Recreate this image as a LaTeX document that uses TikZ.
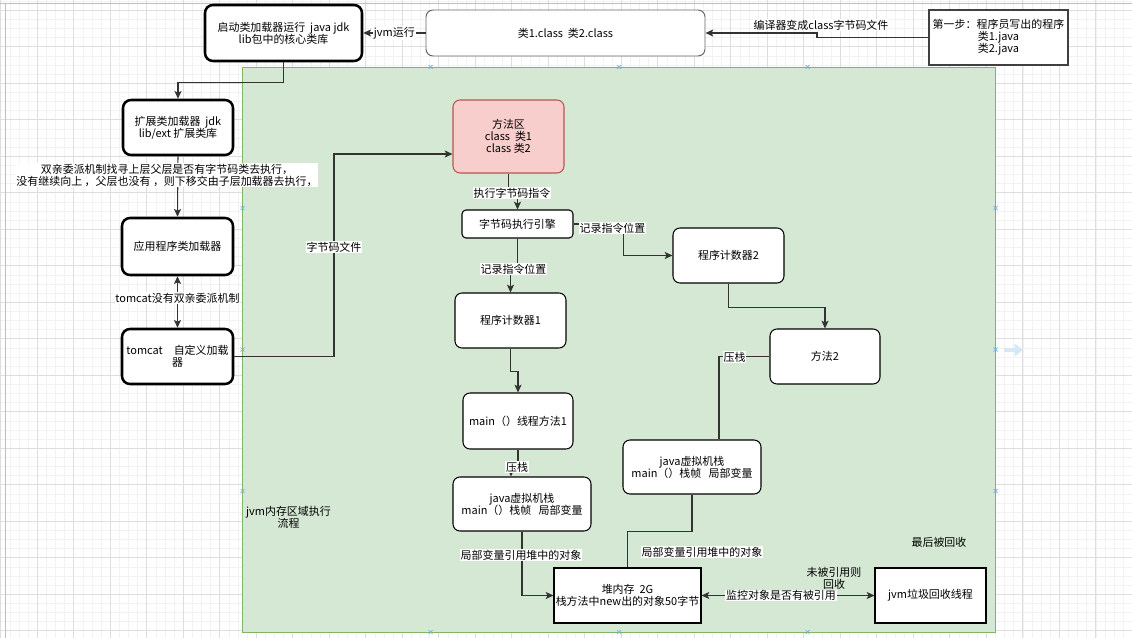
\documentclass[tikz,border=0pt]{standalone}
\usepackage{fontspec}
\setmainfont{Noto Sans CJK SC}
\usepackage{xcolor}
\usepackage{tikz}
\usetikzlibrary{positioning,arrows.meta}
\newdimen\pxu \pxu=0.025cm
\definecolor{areagreen}{HTML}{D5E8D4}
\definecolor{areaedge}{HTML}{82B366}
\definecolor{mafill}{HTML}{F8CECC}
\definecolor{maedge}{HTML}{B85450}
\definecolor{linegray}{HTML}{333333}
\definecolor{markblue}{HTML}{6FB1DF}
\begin{document}
\begin{tikzpicture}[x=0.025cm, y=-0.025cm,
  font=\fontsize{7.8}{8.6}\selectfont,
  >={Stealth[length=5.5pt,width=5pt,inset=1.2pt]},
  every node/.style={align=center, inner sep=0pt},
  gridminor/.style={draw=black!5, line width=0.3pt},
  gridmajor/.style={draw=black!13, line width=0.4pt},
  box/.style={draw=black, line width=0.75pt, rounded corners=7\pxu, fill=white, minimum width=111\pxu, minimum height=55\pxu},
  loader/.style={box, line width=1.8pt, rounded corners=8\pxu},
  sqbox/.style={draw=black, line width=0.75pt, fill=white, minimum height=55\pxu},
  lbl/.style={fill=white, inner sep=0.6pt},
  link/.style={draw=linegray, line width=0.75pt}]
\useasboundingbox (0,0) rectangle (1132,638);

% Grid
\foreach \i in {0,...,124} {\draw[gridminor] ({0.7+\i*9.125},0) -- ++(0,638);}
\foreach \i in {-1,...,69} {\draw[gridminor] (0,{10.2+\i*9.125}) -- ++(1132,0);}
\foreach \i in {0,...,31} {\draw[gridmajor] ({0.7+\i*36.5},0) -- ++(0,638);}
\foreach \i in {0,...,17} {\draw[gridmajor] (0,{10.2+\i*36.5}) -- ++(1132,0);}
\draw[black!25] (0,3.5) -- (1132,3.5);
\draw[black!25] (5,3.5) -- (5,638);

% JVM area
\draw[fill=areagreen, draw=areaedge, line width=0.6pt] (242.5,67) rectangle (995.5,632);
\foreach \mx/\my in {430.5/67,619/67,807.5/67,430.5/632,619/632,807.5/632,242.5/208,242.5/349.5,242.5/491,995.5/208,995.5/349.5,995.5/491}
  {\draw[markblue, line width=0.5pt] (\mx-2,\my-2) -- (\mx+2,\my+2) (\mx-2,\my+2) -- (\mx+2,\my-2);}
\draw[markblue!30, line width=2.5pt, -{Triangle[length=6pt,width=9pt]}] (1004,350) -- (1023,350);

% Class loaders
\node[loader, minimum width=157\pxu, minimum height=56\pxu] (boot) at (283.5,33) {启动类加载器运行\ \ java jdk\\lib包中的核心类库};
\node[loader, minimum width=110\pxu] (ext) at (178,127.5) {扩展类加载器\ \ jdk\\lib/ext 扩展类库};
\node[loader, minimum height=57\pxu] (app) at (177.5,246.5) {应用程序类加载器};
\node[loader] (tomcat) at (177.5,356.5) {tomcat\quad 自定义加载\\器};

% Source and class files
\node[box, draw=black!60, line width=0.7pt, minimum width=279\pxu, minimum height=46\pxu] (cls) at (565.5,33) {类1.class\ \ 类2.class};
\node[sqbox, draw=black!75, minimum width=139\pxu] (src) at (998.5,37.5) {第一步：程序员写出的程序\\类1.java\\类2.java};

% Runtime areas
\node[box, fill=mafill, draw=maedge, minimum height=73\pxu] (marea) at (508.5,136.5) {方法区\\class\ \ 类1\\class 类2};
\node[box, minimum height=28\pxu, rounded corners=4\pxu] (engine) at (517.5,224) {字节码执行引擎};
\node[box] (cnt1) at (510.5,320.5) {程序计数器1};
\node[box] (cnt2) at (728.5,255.5) {程序计数器2};
\node[box, minimum width=110\pxu] (m2) at (825,356.5) {方法2};
\node[box, minimum width=110\pxu, minimum height=56\pxu] (main1) at (518,421) {main（）线程方法1};
\node[box, minimum width=138\pxu, minimum height=54\pxu] (stk1) at (522,504) {java虚拟机栈\\main（）栈帧\ \ \ 局部变量};
\node[box, minimum width=138\pxu, minimum height=54\pxu] (stk2) at (692,467) {java虚拟机栈\\main（）栈帧\ \ \ 局部变量};
\node[sqbox, minimum width=147\pxu] (heap) at (627.5,595.5) {堆内存\ \ 2G\\栈方法中new出的对象50字节};
\node[sqbox, minimum width=111\pxu] (gc) at (930.5,595.5) {jvm垃圾回收线程};

% Free texts
\node (jvmflow) at (288.5,517) {jvm内存区域执行\\流程};
\node (lastgc) at (939,542) {最后被回收};
\node (unref) at (834,578) {未被引用则\\回收};

% Loading
\draw[link,->] (src.west) -- (817,37.5) |- (cls.east);
\node[lbl] (compile) at (821,25) {编译器变成class字节码文件};
\draw[link,->] (cls.west) -- (boot.east) node[lbl, midway] {jvm运行};
\draw[link,->] (boot.south) -- ++(0,20) -| (ext.north);
\draw[link,->] (ext.south) -- (app.north);
\node[lbl] (parent) at (167,175) {双亲委派机制找寻上层父层是否有字节码类去执行，\\没有继续向上 ，父层也没有 ，则下移交由子层加载器去执行，};
\draw[link,<->] (app.south) -- (tomcat.north) node[lbl, pos=0.42] {tomcat没有双亲委派机制};
\draw[link,->] (tomcat.east) -| (334,154) -- (marea.west |- 334,154);
\node[lbl] (bytefile) at (334,247) {字节码文件};

% Execution
\draw[link,->] (marea.south) -- ++(0,20) -| (engine.north);
\node[lbl] (exec) at (512,193) {执行字节码指令};
\draw[link,->] (engine.east) -- ++(50,0) |- (cnt2.west);
\node[lbl] (rec2) at (612.5,228) {记录指令位置};
\draw[link,->] (engine.south) -- ++(0,31) -| (cnt1.north);
\node[lbl] (rec1) at (513.5,269) {记录指令位置};
\draw[link,->] (cnt1.south) -- ++(0,23) -| (main1.north);
\draw[link,->] (main1.south) -- ++(0,18) -| (stk1.north -| 511,0);
\node[lbl] (push1) at (517,467) {压栈};
\draw[link,->] (cnt2.south) -- ++(0,24) -| (m2.north);
\draw[link] (m2.west) -| (stk2.north -| 719,0);
\node[lbl] (push2) at (734.5,357) {压栈};

% Heap
\draw[link,->] (stk1.south) |- (heap.west);
\node[lbl] (ref1) at (521,555) {局部变量引用堆中的对象};
\draw[link] (stk2.south) -- ++(0,37) -| (heap.north);
\node[lbl] (ref2) at (702,552) {局部变量引用堆中的对象};
\draw[link,<->] (heap.east) -- (gc.west) node[lbl, pos=0.46] {监控对象是否有被引用};
\end{tikzpicture}
\end{document}
